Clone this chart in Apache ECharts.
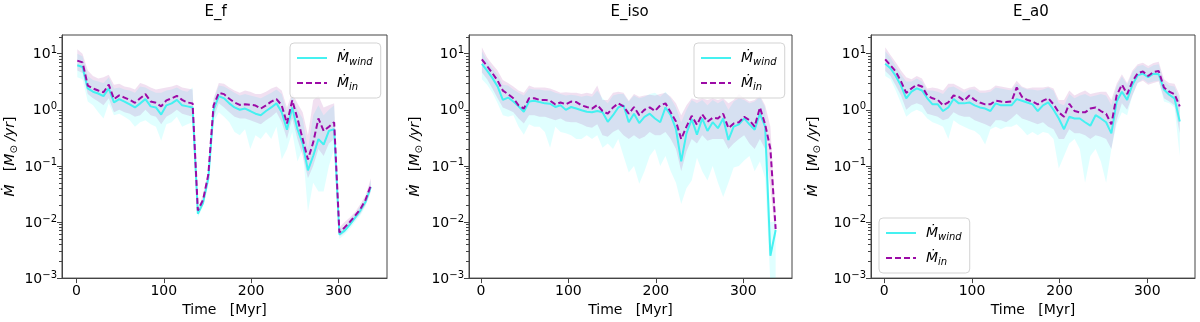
<!DOCTYPE html>
<html>
<head>
<meta charset="utf-8">
<script src="https://cdn.jsdelivr.net/npm/echarts@6/dist/echarts.min.js"></script>
<style>
    html, body { margin: 0; padding: 0; background: #fff; }
    #echarts { width: 1200px; height: 322px; }
</style>
</head>
<body>
<div id="echarts"></div>
<script>
// time samples [Myr]
const time = [1, 7, 13, 19, 25, 31, 37, 43, 49, 55, 61, 67, 73, 79, 85, 91, 97, 103, 109, 115, 121, 127, 133, 139, 145, 151, 157, 163, 169, 175, 181, 187, 193, 199, 205, 211, 217, 223, 229, 235, 241, 247, 253, 259, 265, 271, 277, 283, 289, 295, 301, 307, 313, 319, 325, 331, 337];

// E_f
const efWind = [6.2, 5.8, 2.4, 2.1, 1.95, 1.75, 2.4, 1.35, 1.55, 1.4, 1.25, 1.1, 1.3, 1.55, 1.15, 1.1, 0.82, 1.2, 1.3, 1.5, 1.2, 1.15, 1.1, 0.014, 0.022, 0.06, 1.0, 1.75, 1.6, 1.3, 1.1, 1.0, 1.05, 0.95, 0.85, 0.8, 0.95, 1.1, 1.3, 0.9, 0.44, 1.1, 0.45, 0.25, 0.083, 0.15, 0.3, 0.24, 0.42, 0.45, 0.006, 0.007, 0.009, 0.012, 0.016, 0.023, 0.042];
const efWindLo = [3.8, 3.5, 1.4, 1.2, 0.9, 0.7, 1.3, 0.8, 0.85, 0.75, 0.65, 0.5, 0.6, 0.65, 0.55, 0.5, 0.28, 0.55, 0.6, 0.75, 0.5, 0.55, 0.6, 0.012, 0.019, 0.05, 0.6, 0.9, 0.75, 0.6, 0.4, 0.35, 0.45, 0.2, 0.35, 0.3, 0.4, 0.3, 0.5, 0.13, 0.2, 0.4, 0.12, 0.2, 0.015, 0.05, 0.035, 0.035, 0.1, 0.2, 0.005, 0.006, 0.0075, 0.01, 0.013, 0.019, 0.035];
const efWindHi = [10, 9, 4, 3.4, 3.2, 3.0, 3.8, 2.4, 2.5, 2.3, 2.2, 2.0, 2.6, 2.5, 2.2, 2.0, 2.0, 2.2, 2.3, 2.5, 2.2, 2.1, 2.5, 0.016, 0.026, 0.07, 1.5, 2.7, 2.6, 2.3, 2.0, 1.8, 1.9, 1.8, 1.7, 1.6, 1.8, 2.0, 2.3, 1.9, 0.9, 1.8, 1.0, 0.7, 0.2, 0.8, 1.2, 0.8, 1.0, 1.2, 0.007, 0.0085, 0.011, 0.014, 0.019, 0.027, 0.055];
const efIn = [7.5, 7.0, 2.7, 2.4, 2.2, 2.05, 2.8, 1.55, 1.8, 1.65, 1.5, 1.33, 1.6, 1.9, 1.4, 1.33, 1.15, 1.47, 1.6, 1.77, 1.5, 1.35, 1.3, 0.016, 0.025, 0.07, 1.2, 2.0, 1.9, 1.57, 1.35, 1.22, 1.25, 1.23, 1.19, 1.05, 1.2, 1.4, 1.55, 1.2, 0.57, 1.47, 0.7, 0.3, 0.13, 0.26, 0.7, 0.42, 0.5, 0.6, 0.0065, 0.008, 0.01, 0.013, 0.017, 0.025, 0.045];
const efInLo = [5.0, 4.5, 1.9, 1.6, 1.4, 1.2, 1.6, 0.9, 1.0, 0.9, 0.85, 0.75, 0.8, 1.0, 0.8, 0.75, 0.55, 0.75, 0.85, 1.0, 0.85, 0.8, 0.75, 0.014, 0.02, 0.055, 0.7, 1.3, 1.1, 0.9, 0.75, 0.7, 0.7, 0.65, 0.6, 0.55, 0.65, 0.75, 0.9, 0.6, 0.3, 0.7, 0.3, 0.15, 0.06, 0.1, 0.2, 0.15, 0.25, 0.3, 0.0055, 0.0065, 0.0085, 0.011, 0.014, 0.02, 0.035];
const efInHi = [12, 10, 5, 4.0, 3.6, 3.8, 4.2, 2.8, 2.9, 2.6, 2.5, 2.3, 3.0, 2.8, 2.5, 2.3, 2.4, 2.5, 2.6, 2.8, 2.5, 2.4, 2.3, 0.018, 0.03, 0.08, 1.6, 3.0, 2.9, 2.5, 2.2, 2.0, 2.2, 2.1, 1.9, 1.9, 2.1, 2.4, 2.6, 2.2, 1.1, 2.0, 1.3, 0.9, 0.35, 1.5, 1.8, 1.1, 1.2, 1.3, 0.008, 0.01, 0.012, 0.015, 0.021, 0.03, 0.06];

// E_iso
const isoWind = [6.6, 5.0, 3.7, 2.6, 1.5, 1.65, 1.4, 1.15, 0.92, 1.4, 1.45, 1.37, 1.3, 1.28, 1.12, 1.2, 1.0, 1.12, 1.05, 0.98, 0.92, 0.9, 0.95, 0.9, 0.61, 0.8, 1.1, 1.2, 0.6, 0.85, 0.58, 0.75, 0.85, 0.7, 0.6, 1.1, 0.8, 0.45, 0.12, 0.38, 0.68, 0.36, 0.7, 0.42, 0.6, 0.47, 0.7, 0.29, 0.5, 0.55, 0.7, 0.55, 0.44, 0.85, 0.5, 0.0025, 0.0072];
const isoWindLo = [3.5, 2.8, 2.0, 1.3, 0.8, 0.75, 0.8, 0.5, 0.36, 0.55, 0.5, 0.5, 0.4, 0.21, 0.5, 0.4, 0.38, 0.35, 0.3, 0.3, 0.35, 0.3, 0.35, 0.21, 0.25, 0.2, 0.3, 0.15, 0.076, 0.1, 0.048, 0.08, 0.15, 0.2, 0.1, 0.15, 0.08, 0.05, 0.021, 0.04, 0.055, 0.14, 0.08, 0.055, 0.1, 0.05, 0.028, 0.05, 0.094, 0.1, 0.125, 0.15, 0.08, 0.12, 0.06, 0.0008, 0.0008];
const isoWindHi = [11, 7.5, 5.5, 4.2, 2.8, 2.7, 2.3, 2.0, 1.8, 2.4, 2.3, 2.3, 2.2, 2.2, 2.0, 1.9, 1.8, 1.85, 1.8, 1.7, 1.8, 1.7, 2.2, 1.6, 1.3, 1.8, 1.9, 1.9, 1.4, 1.8, 1.6, 1.7, 1.9, 2.0, 1.7, 2.1, 1.6, 1.1, 0.6, 1.0, 1.5, 1.3, 1.5, 1.2, 1.5, 1.3, 1.5, 1.0, 1.4, 1.6, 1.5, 1.3, 1.4, 1.7, 1.1, 0.01, 0.01];
const isoIn = [7.9, 6.0, 4.5, 3.3, 2.2, 1.9, 1.6, 1.2, 1.05, 1.6, 1.6, 1.5, 1.5, 1.45, 1.25, 1.35, 1.25, 1.4, 1.37, 1.2, 1.12, 1.05, 1.22, 0.95, 0.85, 1.1, 1.3, 1.15, 0.85, 1.12, 0.8, 1.0, 1.1, 0.95, 1.2, 1.3, 0.9, 0.62, 0.3, 0.5, 0.78, 0.54, 0.83, 0.61, 0.72, 0.7, 0.85, 0.47, 0.57, 0.6, 0.75, 0.65, 0.5, 1.1, 0.55, 0.2, 0.0075];
const isoInLo = [4.6, 3.5, 2.4, 1.6, 1.1, 1.0, 0.9, 0.7, 0.57, 0.8, 0.8, 0.75, 0.75, 0.7, 0.65, 0.7, 0.62, 0.6, 0.6, 0.55, 0.5, 0.48, 0.55, 0.35, 0.33, 0.4, 0.45, 0.35, 0.3, 0.35, 0.3, 0.33, 0.4, 0.35, 0.35, 0.4, 0.3, 0.2, 0.08, 0.18, 0.3, 0.25, 0.35, 0.28, 0.3, 0.3, 0.3, 0.2, 0.25, 0.3, 0.35, 0.25, 0.2, 0.3, 0.2, 0.04, 0.005];
const isoInHi = [13, 8.5, 6.5, 5.0, 3.4, 3.0, 2.6, 2.2, 2.0, 2.7, 2.5, 2.5, 2.5, 2.4, 2.2, 2.0, 2.05, 2.0, 2.0, 1.9, 2.0, 1.9, 2.7, 1.5, 1.5, 2.0, 2.1, 2.0, 1.45, 1.9, 1.7, 1.8, 1.85, 1.8, 1.9, 2.0, 1.7, 1.3, 0.8, 1.2, 1.6, 1.5, 1.6, 1.5, 1.6, 1.5, 1.6, 1.3, 1.5, 1.9, 1.6, 1.4, 1.5, 1.8, 1.2, 0.5, 0.012];

// E_a0
const a0Wind = [6.6, 5.5, 4.0, 2.7, 1.6, 2.1, 2.4, 2.2, 1.6, 1.25, 1.25, 0.95, 1.1, 1.55, 1.3, 1.3, 1.35, 1.2, 1.1, 1.05, 0.95, 1.3, 1.2, 1.2, 1.2, 1.55, 1.45, 1.35, 1.25, 0.95, 1.2, 1.35, 1.0, 0.7, 0.45, 0.75, 0.7, 0.7, 0.6, 0.52, 0.8, 0.7, 0.6, 0.38, 1.4, 2.1, 1.5, 2.8, 4.1, 4.4, 3.8, 4.4, 4.3, 2.3, 1.85, 1.6, 0.62];
const a0WindLo = [4.0, 3.5, 2.2, 1.3, 0.75, 0.9, 1.0, 0.9, 0.7, 0.6, 0.55, 0.5, 0.3, 0.65, 0.55, 0.5, 0.45, 0.42, 0.35, 0.24, 0.45, 0.5, 0.45, 0.5, 0.5, 0.55, 0.45, 0.35, 0.4, 0.35, 0.4, 0.38, 0.3, 0.09, 0.15, 0.25, 0.3, 0.2, 0.05, 0.15, 0.2, 0.12, 0.05, 0.2, 0.55, 0.9, 0.8, 1.8, 3.0, 3.5, 3.0, 3.2, 3.3, 1.4, 1.3, 1.1, 0.15];
const a0WindHi = [11, 8.5, 6, 4.3, 3.2, 3.2, 3.6, 3.2, 2.2, 2.2, 2.1, 1.9, 2.5, 2.6, 2.3, 2.0, 2.3, 2.3, 2.0, 2.0, 2.1, 2.5, 2.4, 2.3, 2.2, 2.9, 2.5, 2.3, 2.3, 2.2, 2.3, 2.5, 2.2, 1.3, 1.2, 1.9, 1.6, 1.8, 1.9, 1.7, 1.8, 1.9, 1.8, 1.2, 2.6, 3.9, 2.8, 4.6, 6.0, 6.3, 5.5, 6.2, 6.5, 3.2, 2.7, 2.6, 1.5];
const a0In = [7.9, 6.2, 4.8, 3.2, 2.0, 2.4, 2.8, 2.6, 1.8, 1.6, 1.5, 1.2, 1.35, 1.8, 1.7, 1.45, 1.8, 1.5, 1.35, 1.25, 1.25, 1.45, 1.4, 1.37, 1.4, 2.5, 1.7, 1.5, 1.4, 1.25, 1.45, 1.6, 1.25, 0.9, 0.75, 1.28, 0.95, 0.9, 0.9, 1.05, 1.1, 0.95, 0.85, 0.55, 1.8, 2.8, 1.9, 3.2, 4.5, 4.8, 4.0, 4.7, 4.9, 2.5, 2.1, 1.9, 1.15];
const a0InLo = [4.9, 4.0, 2.7, 1.8, 1.0, 1.2, 1.3, 1.2, 0.85, 0.8, 0.75, 0.65, 0.7, 0.9, 0.8, 0.75, 0.75, 0.65, 0.6, 0.55, 0.5, 0.65, 0.65, 0.6, 0.7, 0.85, 0.7, 0.65, 0.6, 0.55, 0.6, 0.5, 0.45, 0.3, 0.3, 0.45, 0.38, 0.38, 0.35, 0.3, 0.35, 0.33, 0.3, 0.2, 0.65, 1.3, 1.0, 1.8, 3.0, 3.3, 2.8, 3.0, 3.2, 1.6, 1.4, 1.2, 0.38];
const a0InHi = [13, 9.5, 7, 5, 3.8, 3.5, 4.0, 3.6, 2.4, 2.5, 2.4, 2.2, 2.9, 2.9, 2.6, 2.3, 2.5, 2.6, 2.2, 2.2, 2.3, 2.7, 2.6, 2.5, 2.4, 3.3, 2.6, 2.4, 2.5, 2.5, 2.5, 2.6, 2.4, 1.5, 1.5, 2.2, 1.8, 2.0, 2.2, 1.9, 2.0, 2.1, 2.1, 1.5, 2.9, 4.3, 3.0, 5.0, 6.5, 6.9, 6.0, 6.8, 7.2, 3.5, 3.0, 2.9, 1.8];

const titles = ['E_f', 'E_iso', 'E_a0'];
const xTicks = [0, 100, 200, 300];

const panels = [
    { wind: efWind, windLo: efWindLo, windHi: efWindHi, inn: efIn, inLo: efInLo, inHi: efInHi },
    { wind: isoWind, windLo: isoWindLo, windHi: isoWindHi, inn: isoIn, inLo: isoInLo, inHi: isoInHi },
    { wind: a0Wind, windLo: a0WindLo, windHi: a0WindHi, inn: a0In, inLo: a0InLo, inHi: a0InHi }
];

(function () {
    var chartDom = document.getElementById('echarts');
    var myChart = echarts.init(chartDom, null, { renderer: 'canvas' });

    const font = 'DejaVu Sans';
    const lefts = [62, 469, 871];
    const widths = [325, 323, 324];
    const xMin = [-16.5, -13.7, -15.2];
    const xMax = [355.5, 355.7, 354.4];
    const nameGaps = [43, 45, 49];
    const legendPos = [[290, 43], [694, 43], [879, 218]];
    const yMax = 21.5;
    const axisColor = '#444';

    // matplotlib style minor ticks (2..9 x 10^k), placed on a linear log10 axis
    const minorTicks = [];
    for (let k = -3; k <= 1; k++) {
        for (let m = 2; m <= 9; m++) {
            const v = k + Math.log10(m);
            if (v < Math.log10(yMax)) minorTicks.push(v);
        }
    }

    function pairs(ys) {
        return time.map(function (x, i) { return [x, ys[i]]; });
    }

    function band(g, lo, hi, color) {
        return {
            type: 'custom',
            name: 'band',
            xAxisIndex: g,
            yAxisIndex: g,
            clip: true,
            silent: true,
            z: 1,
            data: [[time[0], hi[0]]],
            renderItem: function (params, api) {
                const pts = [];
                for (let i = 0; i < time.length; i++) pts.push(api.coord([time[i], hi[i]]));
                for (let i = time.length - 1; i >= 0; i--) pts.push(api.coord([time[i], lo[i]]));
                return { type: 'polygon', shape: { points: pts }, style: { fill: color } };
            }
        };
    }

    const grid = [], xAxis = [], yAxis = [], series = [], legend = [], graphic = [];

    for (let g = 0; g < 3; g++) {
        grid.push({
            left: lefts[g], top: 35, width: widths[g], height: 248,
            show: true, borderColor: axisColor, borderWidth: 1
        });
        xAxis.push({
            type: 'value', gridIndex: g, min: xMin[g], max: xMax[g],
            name: 'Time   [Myr]', nameLocation: 'middle', nameGap: 23,
            nameTextStyle: { fontFamily: font, fontSize: 14, color: '#000' },
            axisLine: { show: true, onZero: false, lineStyle: { color: axisColor } },
            axisTick: { show: true, length: 5, customValues: xTicks, lineStyle: { color: axisColor } },
            axisLabel: { customValues: xTicks, fontFamily: font, fontSize: 14, color: '#000', margin: 6 },
            splitLine: { show: false }
        });
        yAxis.push({
            type: 'log', logBase: 10, gridIndex: g, min: 0.001, max: yMax,
            name: '{i|Ṁ}   {b|[}{i|M}{sub|⊙}{b| }{i|/yr}{b|]}',
            nameLocation: 'middle', nameGap: nameGaps[g], nameRotate: 90,
            nameTextStyle: {
                fontFamily: font, fontSize: 14, color: '#000',
                rich: {
                    i: { fontFamily: font, fontSize: 14, fontStyle: 'italic', color: '#000', lineHeight: 18 },
                    b: { fontFamily: font, fontSize: 14, color: '#000', lineHeight: 18 },
                    sub: { fontFamily: font, fontSize: 10, color: '#000', lineHeight: 18, verticalAlign: 'bottom' }
                }
            },
            axisLine: { show: true, onZero: false, lineStyle: { color: axisColor } },
            axisTick: { show: true, length: 5, lineStyle: { color: axisColor } },
            axisLabel: {
                showMaxLabel: false,
                fontFamily: font, fontSize: 14, color: '#000', margin: 5,
                formatter: function (v) {
                    const e = Math.log10(v);
                    if (Math.abs(e - Math.round(e)) > 1e-6) return '';
                    const r = Math.round(e);
                    return '{b|10}{sup|' + (r < 0 ? '\u2212' + (-r) : r) + '}';
                },
                rich: {
                    b: { fontFamily: font, fontSize: 14, color: '#000', lineHeight: 16, verticalAlign: 'bottom' },
                    sup: { fontFamily: font, fontSize: 10, color: '#000', lineHeight: 16, verticalAlign: 'top' }
                }
            },
            splitLine: { show: false },
            minorTick: { show: false }
        });

        const p = panels[g];
        series.push(band(g, p.windLo, p.windHi, 'rgba(0, 255, 255, 0.12)'));
        series.push(band(g, p.inLo, p.inHi, 'rgba(139, 0, 139, 0.12)'));
        series.push({
            type: 'line', name: 'wind', xAxisIndex: g, yAxisIndex: g,
            data: pairs(p.wind), symbol: 'none', showSymbol: false, z: 3,
            lineStyle: { color: '#45f1f1', width: 2 }, itemStyle: { color: '#45f1f1' }
        });
        series.push({
            type: 'line', name: 'in', xAxisIndex: g, yAxisIndex: g,
            data: pairs(p.inn), symbol: 'none', showSymbol: false, z: 4,
            lineStyle: { color: '#9c0aa6', width: 2, type: [6, 3] }, itemStyle: { color: '#9c0aa6' }
        });

        legend.push({
            orient: 'vertical', left: legendPos[g][0], top: legendPos[g][1],
            data: ['wind', 'in'], itemWidth: 30, itemHeight: 12, itemGap: 9,
            padding: [8, 8, 6, 6],
            borderColor: '#d3d3d3', borderWidth: 1, borderRadius: 4,
            backgroundColor: 'rgba(255,255,255,0.8)',
            selectedMode: false,
            itemStyle: { opacity: 0, borderWidth: 0 },
            formatter: function (n) { return '{m|Ṁ}{s|' + n + '}'; },
            textStyle: {
                fontFamily: font, color: '#000',
                rich: {
                    m: { fontFamily: font, fontSize: 14, fontStyle: 'italic', color: '#000', lineHeight: 18, padding: [0, 0, 0, 5] },
                    s: { fontFamily: font, fontSize: 10, fontStyle: 'italic', color: '#000', lineHeight: 18, verticalAlign: 'bottom' }
                }
            }
        });

        graphic.push({
            type: 'text', left: lefts[g] + widths[g] / 2 - 20, top: 5,
            style: { text: titles[g], font: '15px "DejaVu Sans"', fill: '#000', width: 40, align: 'center' }
        });
    }

    // minor tick axes (linear in log10 units, same span as the log axes)
    for (let g = 0; g < 3; g++) {
        yAxis.push({
            type: 'value', gridIndex: g, min: -3, max: Math.log10(yMax), position: 'left',
            axisLine: { show: false, onZero: false },
            axisLabel: { show: false },
            splitLine: { show: false },
            axisTick: { show: true, length: 3, customValues: minorTicks, lineStyle: { color: axisColor } }
        });
    }

    const option = {
        animation: false,
        textStyle: { fontFamily: font },
        grid: grid,
        xAxis: xAxis,
        yAxis: yAxis,
        legend: legend,
        series: series,
        graphic: { elements: graphic }
    };
    myChart.setOption(option);
})();
</script>
</body>
</html>
